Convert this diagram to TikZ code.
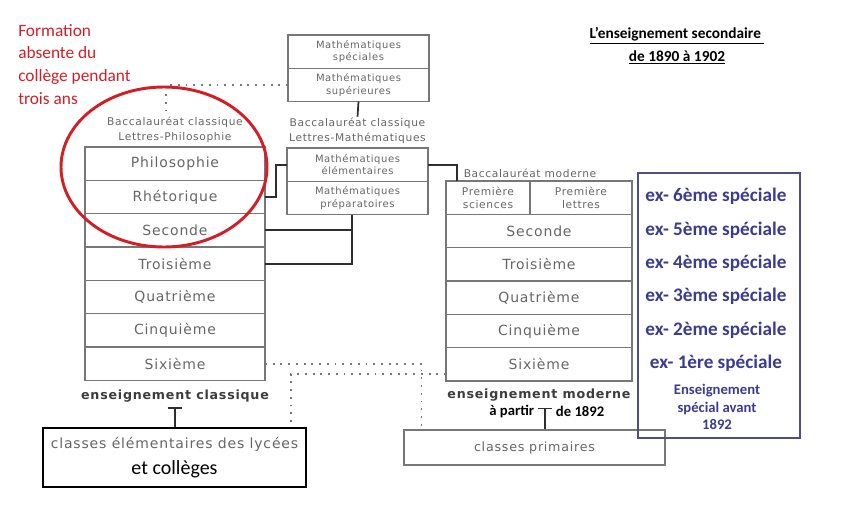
\documentclass[tikz,border=0pt]{standalone}
\usepackage{fontspec}
\setmainfont{Carlito}
\newfontfamily\scanfont{DejaVu Sans}[LetterSpace=6]
\usetikzlibrary{positioning, shapes.geometric}
\definecolor{ScanText}{HTML}{666666}
\definecolor{ScanLine}{HTML}{777777}
\definecolor{LinkDark}{HTML}{2E2E2E}
\definecolor{Rouge}{HTML}{D21F26}
\definecolor{BleuSpec}{HTML}{3B3B8F}
\definecolor{BleuCadre}{HTML}{4F4F80}

\begin{document}
\begin{tikzpicture}[x=0.75pt, y=-0.75pt,
    classe/.style={draw=ScanLine, line width=0.8pt, minimum width=135pt, minimum height=25pt, inner sep=0pt, outer sep=0pt, text=ScanText, font=\scanfont\fontsize{10.5}{12}\selectfont},
    colmod/.style={minimum width=139.5pt},
    petit/.style={align=center, font=\scanfont\fontsize{8}{10}\selectfont},
    matiere/.style={classe, minimum width=105.75pt, align=center, font=\scanfont\fontsize{7.5}{9.5}\selectfont},
    bac/.style={text=ScanText, align=center, inner sep=1pt, font=\scanfont\fontsize{8}{11}\selectfont},
    ens/.style={text=ScanText!60!black, inner sep=1pt, font=\scanfont\bfseries\fontsize{9.5}{11}\selectfont},
    note/.style={inner sep=1pt, font=\bfseries\fontsize{11}{13}\selectfont},
    link/.style={draw=LinkDark, line width=1.3pt},
    pointille/.style={draw=ScanLine, line width=1.4pt, dash pattern=on 1.4pt off 4.4pt},
    spec/.style={text=BleuSpec, align=center, inner sep=0pt, font=\bfseries\fontsize{14.4}{25}\selectfont}
]
\useasboundingbox (0,0) rectangle (863,508);

% Titre
\node[font=\bfseries\fontsize{11.5}{17}\selectfont, align=center] (titre) at (677,46) {\underline{L'enseignement secondaire~}\\\underline{de 1890 à 1902}};

% Remarque
\node[text=Rouge, align=left, anchor=north west, inner sep=0pt, font=\fontsize{13}{17}\selectfont] (formation) at (18,24) {Formation\\absente du\\collège pendant\\trois ans};

% Enseignement classique
\node[classe, anchor=north west] (philo) at (85,147) {Philosophie};
\node[classe, below=0pt of philo] (rheto) {Rhétorique};
\node[classe, below=0pt of rheto] (secc) {Seconde};
\node[classe, below=0pt of secc] (troisc) {Troisième};
\node[classe, below=0pt of troisc] (quatc) {Quatrième};
\node[classe, below=0pt of quatc] (cinqc) {Cinquième};
\node[classe, below=0pt of cinqc] (sixc) {Sixième};
\node[bac, above=2pt of philo] (bacphilo) {Baccalauréat classique\\Lettres-Philosophie};
\node[ens, below=6pt of sixc] (enscl) {enseignement classique};

% Mathematiques
\node[matiere, anchor=north west] (mathspe) at (288,35) {Mathématiques\\spéciales};
\node[matiere, below=0pt of mathspe] (mathsup) {Mathématiques\\supérieures};
\node[matiere, anchor=north west] (mathelem) at (287,148) {Mathématiques\\élémentaires};
\node[matiere, below=0pt of mathelem] (mathprep) {Mathématiques\\préparatoires};
\node[bac, above=2pt of mathelem] (baclm) {Baccalauréat classique\\Lettres-Mathématiques};

% Enseignement moderne
\node[classe, petit, minimum width=63pt, anchor=north west] (prsci) at (446,181) {Première\\sciences};
\node[classe, petit, minimum width=76.5pt, right=0pt of prsci] (prlet) {Première\\lettres};
\node[classe, colmod, anchor=north west] (secm) at (prsci.south west) {Seconde};
\node[classe, colmod, below=0pt of secm] (troism) {Troisième};
\node[classe, colmod, below=0pt of troism] (quatm) {Quatrième};
\node[classe, colmod, below=0pt of quatm] (cinqm) {Cinquième};
\node[classe, colmod, below=0pt of cinqm] (sixm) {Sixième};
\node[bac, above=1pt of prsci.north east] (bacmod) {Baccalauréat moderne};
\node[ens, below=5pt of sixm] (ensmod) {enseignement moderne};

% Classes inferieures
\node[draw=black, line width=2pt, minimum width=197.25pt, minimum height=44.25pt, align=center, inner sep=0pt, font=\fontsize{15}{17}\selectfont] (elem) at (174.5,457.5) {{\color{ScanText}\scanfont\fontsize{10.5}{12}\selectfont classes élémentaires des lycées}\\[2pt]et collèges};
\node[draw=ScanLine, line width=0.8pt, minimum width=195.75pt, minimum height=26.25pt, inner sep=0pt, text=ScanText, font=\scanfont\fontsize{9.5}{11}\selectfont] (prim) at (534.5,447.5) {classes primaires};

% Enseignement special
\node[draw=BleuCadre, line width=0.9pt, minimum width=121.5pt, minimum height=198.75pt] (cadrespe) at (719,305.5) {};
\node[spec] (exspe) at (716,280) {ex- 6ème spéciale\\ex- 5ème spéciale\\ex- 4ème spéciale\\ex- 3ème spéciale\\ex- 2ème spéciale\\ex- 1ère spéciale};
\node[spec, font=\bfseries\fontsize{11}{13}\selectfont] (avant) at (717,407) {Enseignement\\spécial avant\\1892};

% Liaisons
\draw[link] (rheto.east) -- ++(11,0) |- (mathelem.west);
\draw[link] (secc.east) -| ([xshift=-4pt]mathprep.south);
\draw[link] (troisc.east) -| ([xshift=-4pt]mathprep.south);
\draw[link] (mathsup.south) -- (baclm.north);
\draw[link] (mathelem.east) -| ([xshift=8pt]prsci.north west);
\draw[pointille] (mathsup.west) -| ([xshift=-7pt]bacphilo.north);
\draw[pointille] (sixc.east) -| ([xshift=13.5pt]prim.north west);
\draw[pointille] ([yshift=-7pt]sixm.west) -| ([xshift=-12pt]elem.north east);

% T
\coordinate (tcl) at ([yshift=-3pt]enscl.south);
\draw[link] (tcl) -- (tcl |- elem.north);
\draw[link] ([xshift=-5.5pt]tcl) -- ([xshift=5.5pt]tcl);
\coordinate (tmod) at ([xshift=4.5pt, yshift=-4pt]ensmod.south);
\draw[link] (tmod) -- (tmod |- prim.north);
\draw[link] ([xshift=-5.5pt]tmod) -- ([xshift=5.5pt]tmod);
\node[note, left=7pt of tmod, yshift=-2pt] (apartir) {à partir};
\node[note, right=7pt of tmod, yshift=-2pt] (debut) {de 1892};

% Zone absente
\node[ellipse, draw=Rouge, line width=2.2pt, minimum width=154.5pt, minimum height=120pt] (absent) at (164,167) {};

\end{tikzpicture}
\end{document}
